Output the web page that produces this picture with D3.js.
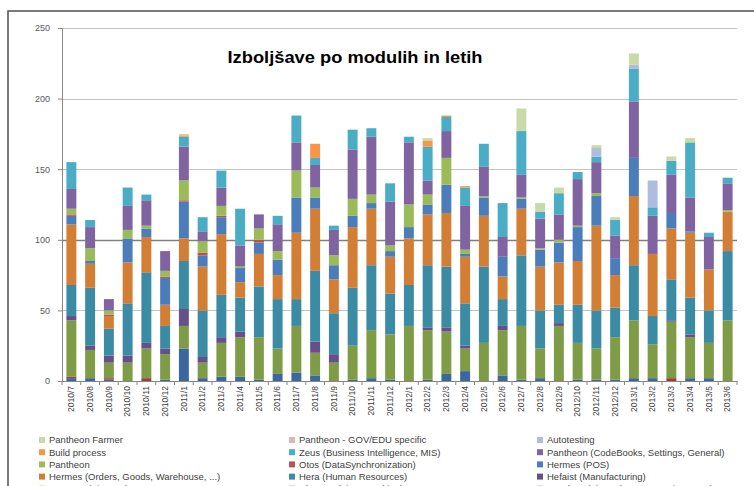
<!DOCTYPE html>
<html><head><meta charset="utf-8">
<script src="https://cdn.jsdelivr.net/npm/d3@7"></script>
<style>body{margin:0;background:#fff}svg{display:block}</style>
</head><body>
<svg id="c" width="754" height="486"></svg>
<script>
const months = ["2010/7","2010/8","2010/9","2010/10","2010/11","2010/12",
"2011/1","2011/2","2011/3","2011/4","2011/5","2011/6","2011/7","2011/8","2011/9","2011/10","2011/11","2011/12",
"2012/1","2012/2","2012/3","2012/4","2012/5","2012/6","2012/7","2012/8","2012/9","2012/10","2012/11","2012/12",
"2013/1","2013/2","2013/3","2013/4","2013/5","2013/6"];
const yTicks = [0,50,100,150,200,250];
const title = "Izboljšave po modulih in letih";

// series, bottom to top
const ares        = [2,2,1,0,0,1,23,2,3,3,1,5,6,4,0,1,2,1,0,1,5,7,0,4,1,2,0,1,1,1,2,2,0,2,2,0];
const chronos     = [1,0,1,0,2,0,0,0,0,0,0,0,0,0,0,0,0,0,0,0,0,0,0,0,0,0,0,0,0,0,0,0,2,0,0,0];
const demeter     = [40,20,11,13,21,18,16,11,24,28,30,18,33,16,13,24,34,32,39,35,30,16,27,32,38,21,39,26,22,30,41,24,40,29,25,43];
const hefaist     = [3,3,5,5,4,4,12,4,4,4,0,0,0,8,6,0,0,0,0,2,3,2,0,3,0,0,2,0,0,0,0,0,1,2,0,0];
const hera        = [22,41,19,37,50,16,34,33,30,24,36,35,19,50,29,41,46,29,29,44,43,30,54,19,50,27,13,27,27,21,39,20,29,26,23,49];
const hermesOrd   = [43,17,9,29,25,15,16,31,43,11,23,17,47,44,24,43,40,26,33,36,38,33,36,16,33,31,30,31,60,23,49,44,36,46,29,28];
const hermesPos   = [6,2,0,17,6,19,26,8,12,10,8,11,25,8,10,8,4,4,8,7,20,2,13,14,7,12,14,24,21,12,27,0,11,1,0,0];
const otos        = [1,0,1,0,0,1,1,2,1,0,2,0,0,0,0,0,0,0,0,0,0,0,0,0,0,0,0,0,0,0,0,0,0,0,0,0];
const pantheon    = [4,9,3,6,2,4,14,8,7,1,8,6,19,7,7,12,6,4,16,7,19,3,1,0,1,1,2,1,2,0,0,0,0,0,0,1];
const codebooks   = [14,15,8,17,18,14,24,7,13,15,10,19,20,16,18,35,41,31,44,10,19,31,21,14,16,21,18,33,22,16,40,27,27,24,23,19];
const zeus        = [19,5,0,13,4,0,7,10,12,26,0,6,19,5,3,14,6,13,4,24,10,13,16,24,31,5,15,5,4,11,23,6,10,39,3,4];
const build       = [0,0,0,0,0,0,1,0,0,0,0,0,0,10,0,0,0,0,0,4,1,1,0,0,0,0,0,0,0,0,0,0,0,0,0,0];
const autotesting = [0,0,0,0,0,0,0,0,0,0,0,0,0,0,0,0,0,0,0,0,0,0,0,0,0,0,0,0,6,0,3,19,0,0,0,0];
const govedu      = [0,0,0,0,0,0,0,0,0,0,0,0,0,0,0,0,0,0,0,0,0,0,0,0,0,0,0,0,0,0,0,0,0,0,0,0];
const farmer      = [0,0,0,0,0,0,1,0,0,0,0,0,0,0,0,0,0,0,0,2,0,0,0,0,16,6,4,0,2,2,8,0,3,3,0,0];

const seriesNames = ["Ares(SQL) (Development Environment)","Chronos (Time Tracking)","Demeter (Finance)",
 "Hefaist (Manufacturing)","Hera (Human Resources)","Hermes (Orders, Goods, Warehouse, ...)","Hermes (POS)",
 "Otos (DataSynchronization)","Pantheon","Pantheon (CodeBooks, Settings, General)","Zeus (Business Intelligence, MIS)",
 "Build process","Autotesting","Pantheon - GOV/EDU specific","Pantheon Farmer"];
const seriesValues = [ares,chronos,demeter,hefaist,hera,hermesOrd,hermesPos,otos,pantheon,codebooks,zeus,build,autotesting,govedu,farmer];
const seriesColors = ["#3C66A0","#A33A37","#7E9B45","#65508A","#3A8BA3","#D37E35","#4C7DBB",
 "#C0504D","#9BBB59","#8064A2","#4BACC6","#F79646","#AEBDDD","#E3B3B2","#C9DAA6"];

const table = months.map((m,i)=>{const o={month:m};seriesNames.forEach((s,k)=>o[s]=seriesValues[k][i]);return o;});
const stack = d3.stack().keys(seriesNames)(table);

const svg = d3.select("#c");
const x = d3.scaleBand().domain(months).range([62,737]).paddingInner(0.47).paddingOuter(0.235);
const y = d3.scaleLinear().domain([0,250]).range([381,28]);

// border
svg.append("rect").attr("x",8).attr("y",11).attr("width",760).attr("height",490)
  .attr("fill","none").attr("stroke","#5a5a5a").attr("stroke-width",1.6);

// grid
svg.append("g").selectAll("line").data(yTicks.filter(d=>d>0)).join("line")
  .attr("x1",62).attr("x2",737).attr("y1",d=>Math.round(y(d))+0.5).attr("y2",d=>Math.round(y(d))+0.5)
  .attr("stroke",d=>d===100?"#808080":"#c4c4c4").attr("stroke-width",d=>d===100?1.4:1.2);

// bars
svg.append("g").selectAll("g").data(stack).join("g").attr("fill",(d,i)=>seriesColors[i])
  .selectAll("rect").data(d=>d).join("rect")
  .attr("x",d=>x(d.data.month)).attr("width",x.bandwidth())
  .attr("y",d=>y(d[1])).attr("height",d=>Math.max(0,y(d[0])-y(d[1])));

// y axis
const ya = svg.append("g").attr("transform","translate(62,0)")
  .call(d3.axisLeft(y).tickValues(yTicks).tickSize(4).tickPadding(8));
ya.select(".domain").attr("stroke","#868686");
ya.selectAll(".tick line").attr("stroke","#868686");
ya.selectAll("text").attr("fill","#595959").style("font-family","Liberation Sans, Arial, sans-serif").style("font-size","9px");

// x axis
const xa = svg.append("g").attr("transform","translate(0,381)")
  .call(d3.axisBottom(x).tickSize(0).tickPadding(5));
xa.select(".domain").attr("stroke","#868686");
xa.selectAll("text").attr("fill","#404040").style("font-family","Liberation Sans, Arial, sans-serif").style("font-size","8.5px")
  .attr("transform","rotate(-90)").attr("text-anchor","end").attr("dy","0.32em").attr("x",-5).attr("y",0);
// category boundary ticks
const step = x.step();
svg.append("g").selectAll("line").data(d3.range(months.length+1)).join("line")
  .attr("x1",i=>62+i*step).attr("x2",i=>62+i*step).attr("y1",381).attr("y2",385).attr("stroke","#868686");

// title
svg.append("text").attr("x",355).attr("y",63).attr("text-anchor","middle")
  .style("font-family","Liberation Sans, Arial, sans-serif").style("font-weight","bold").style("font-size","17px")
  .attr("fill","#000").attr("textLength",255).attr("lengthAdjust","spacingAndGlyphs").text(title);

// legend
const legendOrder = seriesNames.map((n,i)=>i).reverse();
const colX = [39,289,537];
const rowY0 = 440, rowH = 12.2;
const lg = svg.append("g");
legendOrder.forEach((si,k)=>{
  const c = k%3, r = Math.floor(k/3);
  const gx = colX[c], gy = rowY0 + r*rowH;
  lg.append("rect").attr("x",gx).attr("y",gy-3).attr("width",6).attr("height",6).attr("fill",seriesColors[si]);
  lg.append("text").attr("x",gx+10).attr("y",gy).attr("dy","0.35em").attr("fill","#404040")
    .style("font-family","Liberation Sans, Arial, sans-serif").style("font-size","9.5px").text(seriesNames[si]);
});
</script>
</body></html>
